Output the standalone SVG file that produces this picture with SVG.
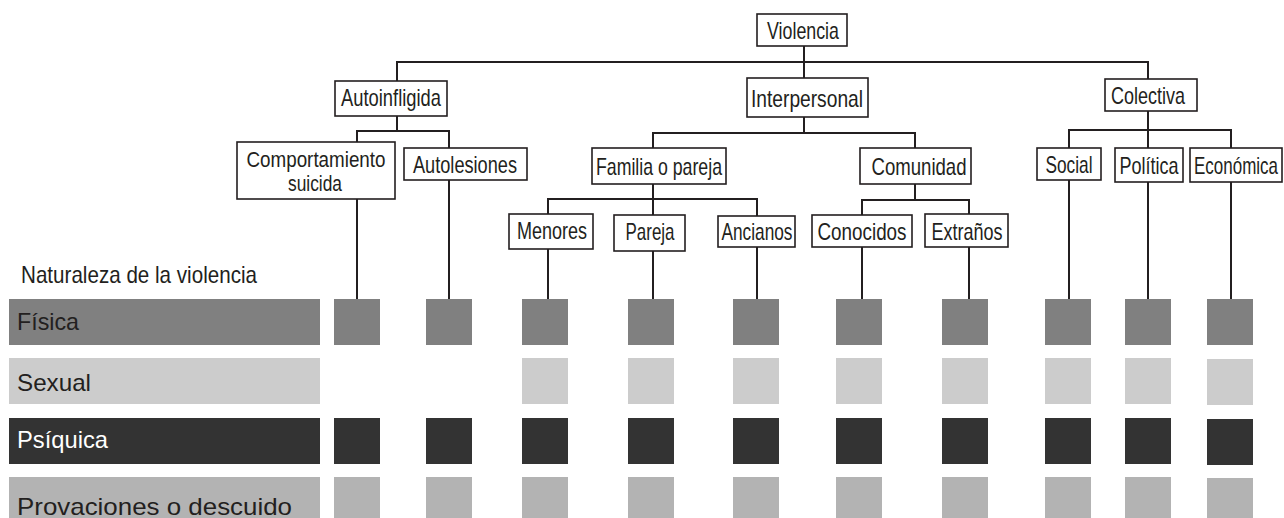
<svg xmlns="http://www.w3.org/2000/svg" width="1284" height="518" viewBox="0 0 1284 518">
<style>
.box{fill:#fff;stroke:#231f20;stroke-width:1.6}
.t{font-family:"Liberation Sans",Arial,sans-serif;font-size:24px;fill:#231f20;text-anchor:middle}
.t2{font-size:21.5px}
.te{text-anchor:end}
.rl{font-family:"Liberation Sans",Arial,sans-serif;font-size:24px;fill:#231f20}
.w{fill:#fff}
.conn line{stroke:#231f20;stroke-width:2}
.fis{fill:#808080}
.sex{fill:#cccccc}
.psi{fill:#333333}
.pro{fill:#b3b3b3}
</style>
<rect width="1284" height="518" fill="#fff"/>
<g id="connectors" class="conn">
<line x1="804" y1="46" x2="804" y2="62"/>
<line x1="396" y1="62" x2="1149" y2="62"/>
<line x1="397" y1="62" x2="397" y2="81"/>
<line x1="804" y1="62" x2="804" y2="78"/>
<line x1="1148" y1="62" x2="1148" y2="79"/>
<line x1="397" y1="116" x2="397" y2="131"/>
<line x1="356" y1="131" x2="450" y2="131"/>
<line x1="357" y1="131" x2="357" y2="142"/>
<line x1="449" y1="131" x2="449" y2="148"/>
<line x1="357" y1="199" x2="357" y2="299"/>
<line x1="449" y1="180" x2="449" y2="299"/>
<line x1="804" y1="117" x2="804" y2="133"/>
<line x1="652" y1="133" x2="916" y2="133"/>
<line x1="653" y1="133" x2="653" y2="148"/>
<line x1="915" y1="133" x2="915" y2="148"/>
<line x1="653" y1="184" x2="653" y2="199"/>
<line x1="547" y1="199" x2="758" y2="199"/>
<line x1="548" y1="199" x2="548" y2="214"/>
<line x1="653" y1="199" x2="653" y2="215"/>
<line x1="757" y1="199" x2="757" y2="216"/>
<line x1="915" y1="184" x2="915" y2="200"/>
<line x1="861" y1="200" x2="970" y2="200"/>
<line x1="862" y1="200" x2="862" y2="215"/>
<line x1="969" y1="200" x2="969" y2="214"/>
<line x1="548" y1="249" x2="548" y2="299"/>
<line x1="653" y1="251" x2="653" y2="299"/>
<line x1="757" y1="247" x2="757" y2="299"/>
<line x1="862" y1="247" x2="862" y2="299"/>
<line x1="969" y1="247" x2="969" y2="299"/>
<line x1="1148" y1="111" x2="1148" y2="130"/>
<line x1="1068" y1="130" x2="1232" y2="130"/>
<line x1="1069" y1="130" x2="1069" y2="148"/>
<line x1="1148" y1="130" x2="1148" y2="148"/>
<line x1="1231" y1="130" x2="1231" y2="148"/>
<line x1="1069" y1="180" x2="1069" y2="299"/>
<line x1="1148" y1="182" x2="1148" y2="299"/>
<line x1="1231" y1="182" x2="1231" y2="299"/>
</g>
<g id="n-violencia"><rect class="box" x="757" y="14" width="90" height="32"/><text class="t" x="803" y="39" textLength="72" lengthAdjust="spacingAndGlyphs">Violencia</text></g>
<g id="n-autoinfligida"><rect class="box" x="335" y="81" width="112" height="35"/><text class="t" x="391" y="106" textLength="100" lengthAdjust="spacingAndGlyphs">Autoinfligida</text></g>
<g id="n-interpersonal"><rect class="box" x="747" y="78" width="121" height="39"/><text class="t" x="807" y="107" textLength="112" lengthAdjust="spacingAndGlyphs">Interpersonal</text></g>
<g id="n-colectiva"><rect class="box" x="1105" y="79" width="92" height="32"/><text class="t" x="1148" y="104" textLength="74" lengthAdjust="spacingAndGlyphs">Colectiva</text></g>
<g id="n-comportamiento"><rect class="box" x="237" y="142" width="158" height="57"/><text class="t t2" x="316" y="167" textLength="139" lengthAdjust="spacingAndGlyphs">Comportamiento</text><text class="t t2" x="315" y="191" textLength="54" lengthAdjust="spacingAndGlyphs">suicida</text></g>
<g id="n-autolesiones"><rect class="box" x="404" y="148" width="123" height="32"/><text class="t" x="465" y="173" textLength="104" lengthAdjust="spacingAndGlyphs">Autolesiones</text></g>
<g id="n-familia"><rect class="box" x="592" y="148" width="134" height="36"/><text class="t" x="659" y="175" textLength="126" lengthAdjust="spacingAndGlyphs">Familia o pareja</text></g>
<g id="n-comunidad"><rect class="box" x="860" y="148" width="111" height="36"/><text class="t" x="919" y="175" textLength="95" lengthAdjust="spacingAndGlyphs">Comunidad</text></g>
<g id="n-social"><rect class="box" x="1037" y="148" width="64" height="32"/><text class="t" x="1069" y="173" textLength="47" lengthAdjust="spacingAndGlyphs">Social</text></g>
<g id="n-politica"><rect class="box" x="1115" y="148" width="68" height="34"/><text class="t" x="1149" y="174" textLength="59" lengthAdjust="spacingAndGlyphs">Política</text></g>
<g id="n-economica"><rect class="box" x="1190" y="148" width="92" height="34"/><text class="t te" x="1278" y="174" textLength="84" lengthAdjust="spacingAndGlyphs">Económica</text></g>
<g id="n-menores"><rect class="box" x="509" y="214" width="84" height="35"/><text class="t" x="552" y="239" textLength="70" lengthAdjust="spacingAndGlyphs">Menores</text></g>
<g id="n-pareja"><rect class="box" x="614" y="215" width="71" height="36"/><text class="t" x="650" y="240" textLength="49" lengthAdjust="spacingAndGlyphs">Pareja</text></g>
<g id="n-ancianos"><rect class="box" x="718" y="216" width="77" height="31"/><text class="t" x="757" y="240" textLength="71" lengthAdjust="spacingAndGlyphs">Ancianos</text></g>
<g id="n-conocidos"><rect class="box" x="812" y="215" width="100" height="32"/><text class="t" x="862" y="240" textLength="89" lengthAdjust="spacingAndGlyphs">Conocidos</text></g>
<g id="n-extranos"><rect class="box" x="925" y="214" width="83" height="33"/><text class="t" x="967" y="240" textLength="71" lengthAdjust="spacingAndGlyphs">Extraños</text></g>
<g id="legend">
<text class="rl" x="21" y="283" textLength="236" lengthAdjust="spacingAndGlyphs">Naturaleza de la violencia</text>
<rect class="fis" x="9" y="299" width="311" height="46"/>
<text class="rl" x="17" y="330" textLength="62" lengthAdjust="spacingAndGlyphs">Física</text>
<rect class="sex" x="9" y="358" width="311" height="46"/>
<text class="rl" x="17" y="391" textLength="74" lengthAdjust="spacingAndGlyphs">Sexual</text>
<rect class="psi" x="9" y="418" width="311" height="46"/>
<text class="rl w" x="17" y="448" textLength="91" lengthAdjust="spacingAndGlyphs">Psíquica</text>
<rect class="pro" x="9" y="477" width="311" height="46"/>
<text class="rl" x="17" y="515" textLength="275" lengthAdjust="spacingAndGlyphs">Provaciones o descuido</text>
</g>
<g id="matrix">
<rect class="fis" x="334" y="299" width="46" height="46"/><rect class="psi" x="334" y="418" width="46" height="46"/><rect class="pro" x="334" y="477" width="46" height="46"/>
<rect class="fis" x="426" y="299" width="46" height="46"/><rect class="psi" x="426" y="418" width="46" height="46"/><rect class="pro" x="426" y="477" width="46" height="46"/>
<rect class="fis" x="522" y="299" width="46" height="46"/><rect class="sex" x="522" y="358" width="46" height="46"/><rect class="psi" x="522" y="418" width="46" height="46"/><rect class="pro" x="522" y="477" width="46" height="46"/>
<rect class="fis" x="628" y="299" width="46" height="46"/><rect class="sex" x="628" y="358" width="46" height="46"/><rect class="psi" x="628" y="418" width="46" height="46"/><rect class="pro" x="628" y="477" width="46" height="46"/>
<rect class="fis" x="733" y="299" width="46" height="46"/><rect class="sex" x="733" y="358" width="46" height="46"/><rect class="psi" x="733" y="418" width="46" height="46"/><rect class="pro" x="733" y="477" width="46" height="46"/>
<rect class="fis" x="836" y="299" width="46" height="46"/><rect class="sex" x="836" y="358" width="46" height="46"/><rect class="psi" x="836" y="418" width="46" height="46"/><rect class="pro" x="836" y="477" width="46" height="46"/>
<rect class="fis" x="942" y="299" width="46" height="46"/><rect class="sex" x="942" y="358" width="46" height="46"/><rect class="psi" x="942" y="418" width="46" height="46"/><rect class="pro" x="942" y="477" width="46" height="46"/>
<rect class="fis" x="1045" y="299" width="46" height="46"/><rect class="sex" x="1045" y="358" width="46" height="46"/><rect class="psi" x="1045" y="418" width="46" height="46"/><rect class="pro" x="1045" y="477" width="46" height="46"/>
<rect class="fis" x="1125" y="299" width="46" height="46"/><rect class="sex" x="1125" y="358" width="46" height="46"/><rect class="psi" x="1125" y="418" width="46" height="46"/><rect class="pro" x="1125" y="477" width="46" height="46"/>
<rect class="fis" x="1207" y="299" width="46" height="46"/><rect class="sex" x="1207" y="359" width="46" height="46"/><rect class="psi" x="1207" y="419" width="46" height="46"/><rect class="pro" x="1207" y="478" width="46" height="46"/>
</g>
</svg>
